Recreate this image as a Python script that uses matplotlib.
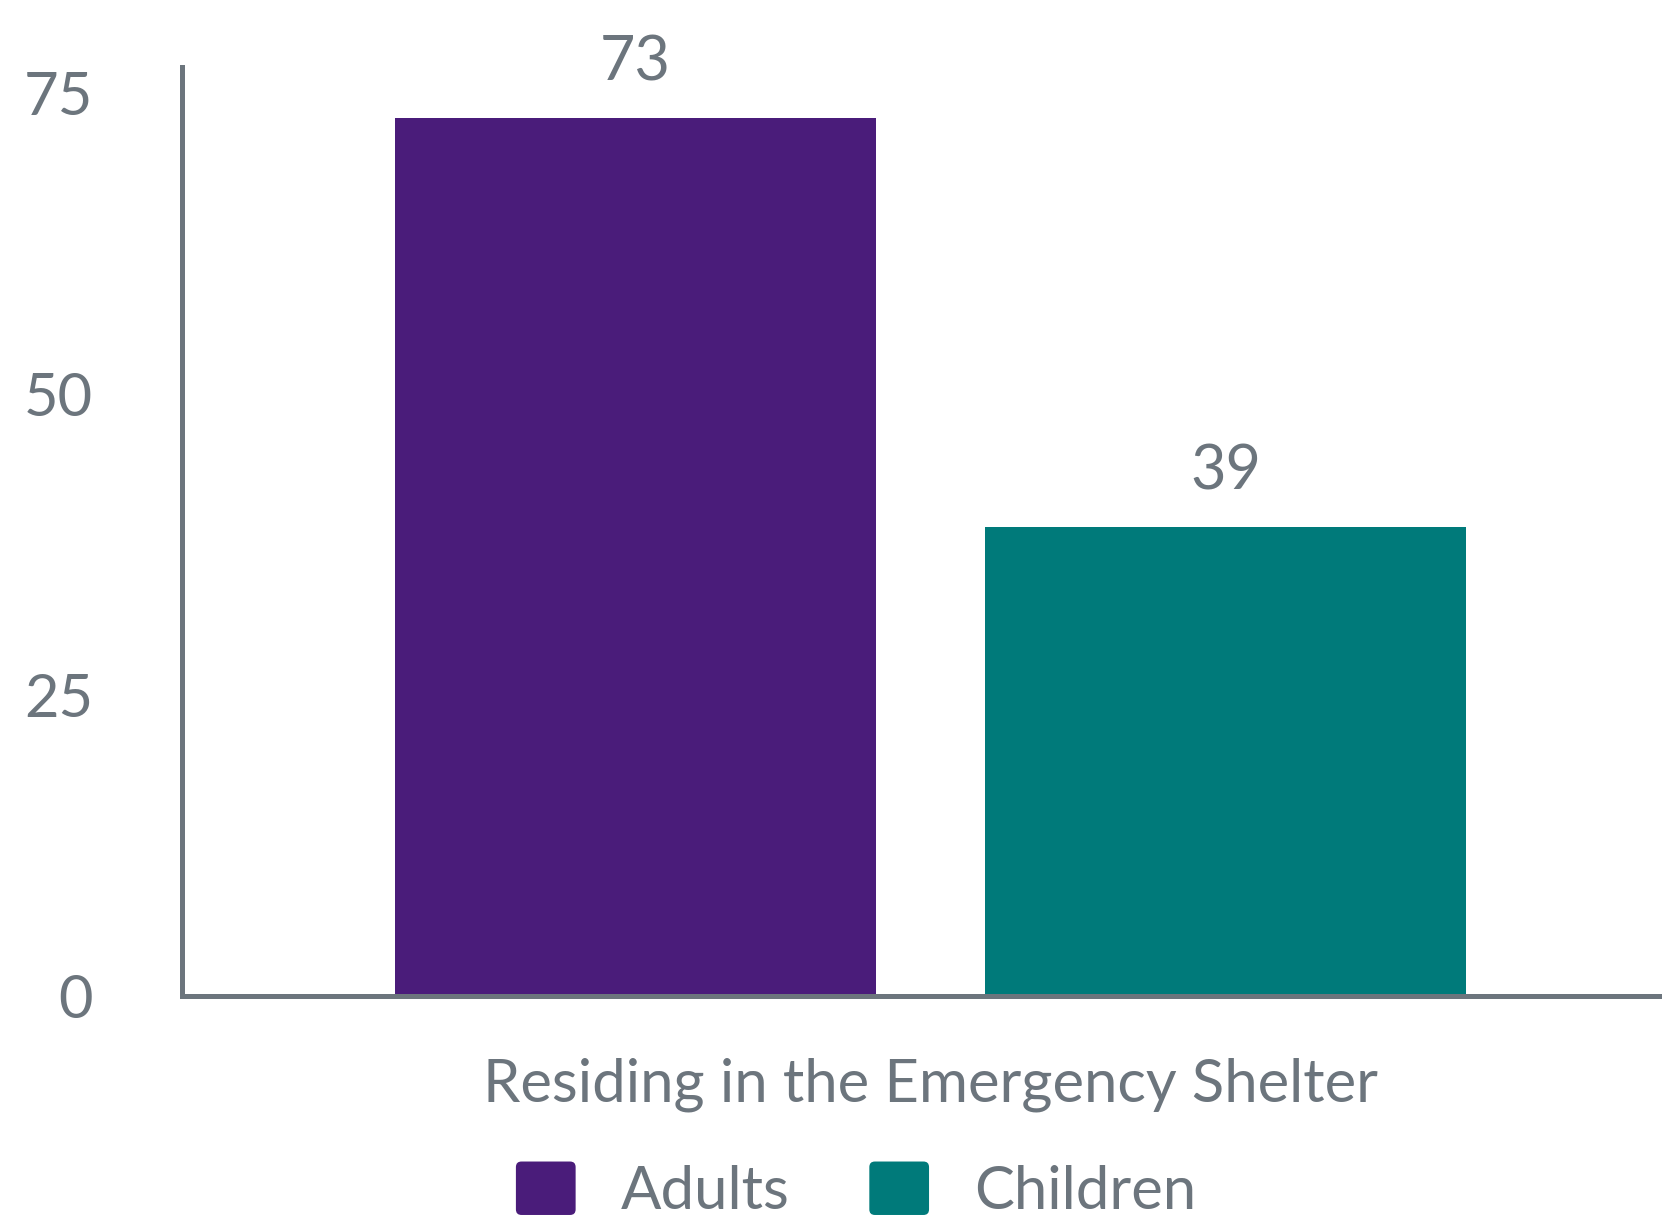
import matplotlib
matplotlib.use("Agg")
import matplotlib.pyplot as plt
from matplotlib.patches import FancyBboxPatch
from matplotlib.legend_handler import HandlerPatch
import numpy as np

plt.rcParams['font.family'] = ['Lato', 'DejaVu Sans']

categories = ['Residing in the Emergency Shelter']
series = ['Adults', 'Children']
values = [73, 39]
yticks = [0, 25, 50, 75]

colors = ['#4A1C7A', '#007A7A']
grey = '#6C757D'

fig = plt.figure(figsize=(16.62, 12.2), dpi=100)
ax = fig.add_axes([0.1095, 0.1836, 0.8905, 0.7615])

width = 0.815
pos = np.arange(len(series))
bars = []
for i, (name, v) in enumerate(zip(series, values)):
    b = ax.bar(pos[i], v, width=width, color=colors[i], label=name, zorder=2)
    bars.append(b)
    ax.annotate(str(v), (pos[i], v), xytext=(0, 39.5), textcoords='offset points',
                ha='center', va='center', fontsize=44, color=grey)

ax.set_xlim(-0.769, 1.740)
ax.set_ylim(0, 77.2)
ax.set_yticks(yticks)
ax.set_yticklabels([str(t) for t in yticks])
ax.set_xticks([pos.mean()])
ax.set_xticklabels(categories)
ax.tick_params(axis='y', length=0, pad=64, labelsize=43, labelcolor=grey)
ax.tick_params(axis='x', length=0, pad=44, labelsize=43, labelcolor=grey)

for s in ['top', 'right']:
    ax.spines[s].set_visible(False)
for s in ['left', 'bottom']:
    ax.spines[s].set_color(grey)
    ax.spines[s].set_linewidth(3.6)
ax.spines['left'].set_zorder(3)
ax.spines['bottom'].set_zorder(3)


def rounded(legend, orig_handle, xdescent, ydescent, width, height, fontsize):
    return FancyBboxPatch((-xdescent + 2, -ydescent + 2), width - 4, height - 4,
                          boxstyle='round,pad=2,rounding_size=4',
                          mutation_aspect=1)


handles = [b.patches[0] for b in bars]
fig.legend(handles, series, loc='center', bbox_to_anchor=(0.515, 0.0245),
           ncol=2, frameon=False, fontsize=43, labelcolor=grey,
           handlelength=1.0, handleheight=1.0, handletextpad=0.75,
           columnspacing=1.34,
           handler_map={h: HandlerPatch(patch_func=rounded) for h in handles})

fig.savefig('out.png', dpi=100)
